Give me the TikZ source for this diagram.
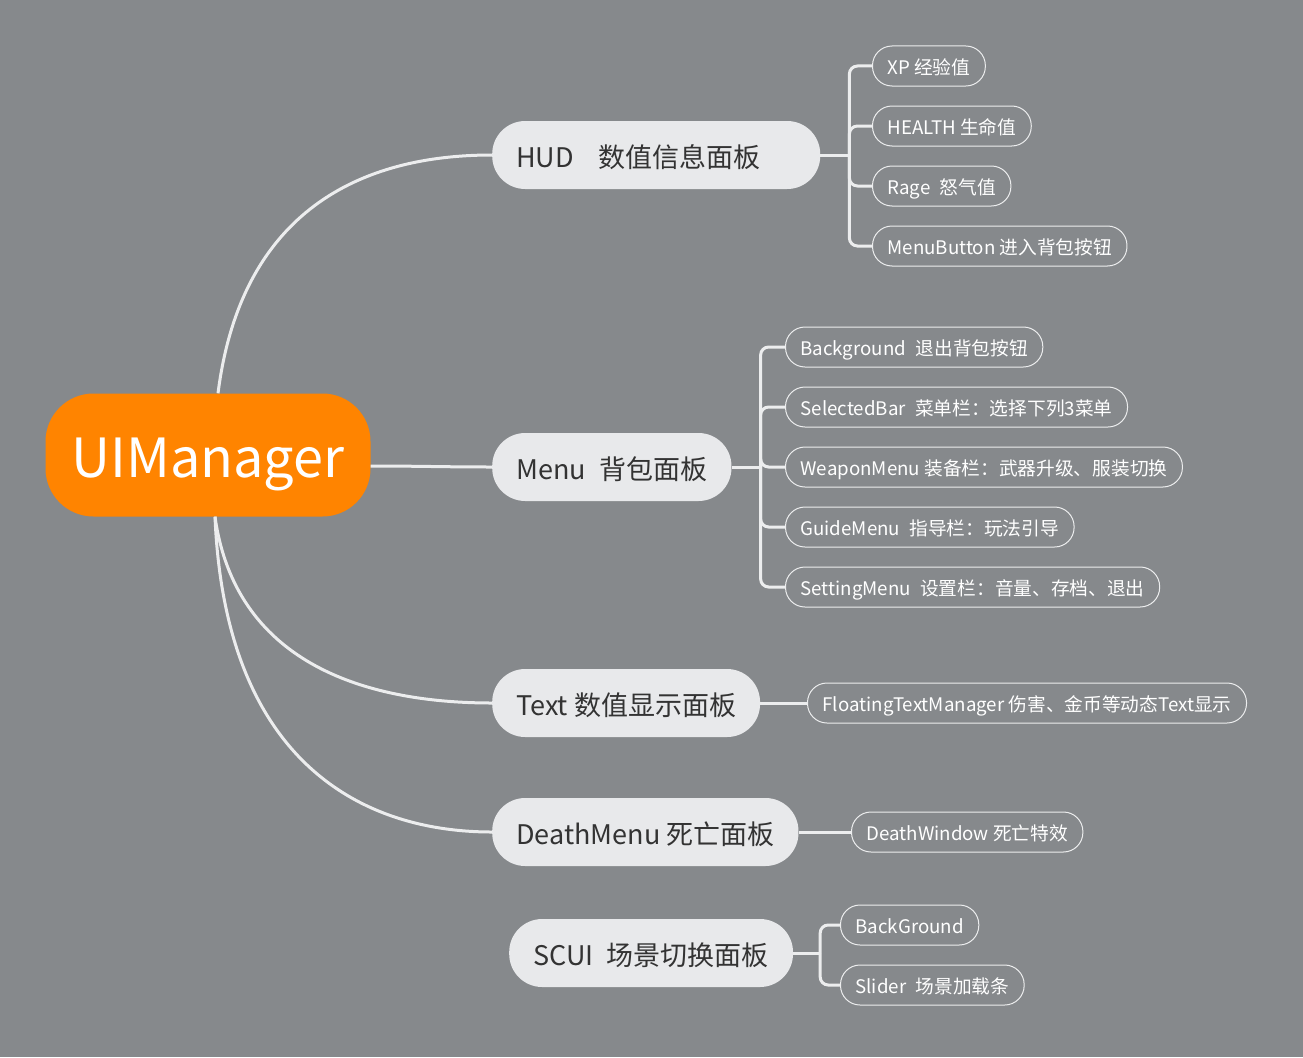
\documentclass[tikz,border=0pt]{standalone}
\usepackage{fontspec}
\setmainfont{Noto Sans CJK SC}
\definecolor{bgcol}{RGB}{134,137,140}
\definecolor{rootcol}{RGB}{255,132,0}
\definecolor{topiccol}{RGB}{232,233,235}
\definecolor{textcol}{RGB}{51,51,51}
\definecolor{linkcol}{RGB}{236,237,238}
\tikzset{
  root/.style={fill=rootcol, text=white, rounded corners=48pt, minimum width=325pt,
    minimum height=123pt, text height=52pt, text depth=7pt, font=\fontsize{54}{60}\selectfont},
  topic/.style={fill=topiccol, text=textcol, rounded corners=33pt, minimum height=68pt,
    inner xsep=24pt, text height=26pt, text depth=2pt, anchor=west,
    font=\fontsize{27}{32}\selectfont},
  leaf/.style={draw=linkcol, line width=1pt, text=white, rounded corners=19.5pt,
    minimum height=40pt, inner xsep=15pt, text height=17pt, text depth=0pt, anchor=west,
    font=\fontsize{18.7}{22}\selectfont},
  link/.style={draw=linkcol, line width=3pt}
}

\begin{document}
\begin{tikzpicture}[x=1pt,y=-1pt]
    \fill[bgcol] (0,0) rectangle (1303,1057);
    \node[root] (root) at (208,455) {UIManager};
    \node[topic] (hud) at (492,155) {HUD\hspace{0.9em}数值信息面板\kern36pt};
    \node[topic] (menu) at (492,467) {Menu\hspace{0.5em}背包面板};
    \node[topic] (text) at (492,703) {Text 数值显示面板};
    \node[topic] (death) at (492,832) {DeathMenu 死亡面板};
    \node[topic] (scui) at (509,953) {SCUI\hspace{0.5em}场景切换面板};

    \node[leaf] (xp) at (872,66) {XP 经验值};
    \node[leaf] (health) at (872,126) {HEALTH 生命值};
    \node[leaf] (rage) at (872,186) {Rage\hspace{0.5em}怒气值};
    \node[leaf] (mbtn) at (872,246) {MenuButton 进入背包按钮};
    \node[leaf] (bground) at (785,347) {Background\hspace{0.5em}退出背包按钮};
    \node[leaf] (sbar) at (785,407) {SelectedBar\hspace{0.5em}菜单栏：选择下列3菜单};
    \node[leaf] (wmenu) at (785,467) {WeaponMenu 装备栏：武器升级、服装切换};
    \node[leaf] (gmenu) at (785,527) {GuideMenu\hspace{0.5em}指导栏：玩法引导};
    \node[leaf] (smenu) at (785,587) {SettingMenu\hspace{0.5em}设置栏：音量、存档、退出};
    \node[leaf] (ftm) at (807,703) {FloatingTextManager 伤害、金币等动态Text显示};
    \node[leaf] (dwin) at (851,832) {DeathWindow 死亡特效};
    \node[leaf] (sbg) at (840,925) {BackGround};
    \node[leaf] (slider) at (840,985) {Slider\hspace{0.5em}场景加载条};

    \draw[link] ([xshift=10pt]root.north) .. controls (240,220) and (350,155) .. (hud.west);
    \draw[link] ([yshift=-11pt]root.east) to[out=0,in=180] (menu.west);
    \draw[link] ([xshift=7pt]root.south) .. controls (235,660) and (360,703) .. (text.west);
    \draw[link] ([xshift=7pt]root.south) .. controls (225,760) and (360,832) .. (death.west);

    \draw[link] (hud.east) -- ++(29,0) coordinate (hudj);
    \foreach \n in {xp,health,rage,mbtn}
        \draw[link,rounded corners=8pt] (hudj) |- (\n.west);
    \draw[link] (menu.east) -- ++(29,0) coordinate (menuj);
    \foreach \n in {bground,sbar,wmenu,gmenu,smenu}
        \draw[link,rounded corners=8pt] (menuj) |- (\n.west);
    \draw[link] (text.east) -- (ftm.west);
    \draw[link] (death.east) -- (dwin.west);
    \draw[link] (scui.east) -- ++(27,0) coordinate (scuij);
    \foreach \n in {sbg,slider}
        \draw[link,rounded corners=8pt] (scuij) |- (\n.west);
  \end{tikzpicture}
\end{document}
